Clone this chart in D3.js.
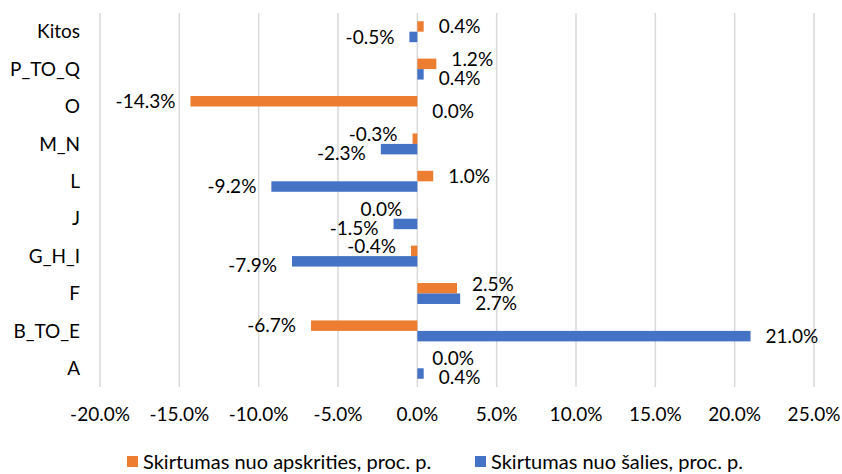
<!DOCTYPE html>
<html>
<head>
<meta charset="utf-8">
<script src="https://cdn.jsdelivr.net/npm/d3@7"></script>
<style>
  body { margin: 0; background: #fff; }
  text { font-family: Lato, "Open Sans", sans-serif; fill: #000; }
</style>
</head>
<body>
<svg></svg>
<script>
// categories from bottom to top
var categories = ["A", "B_TO_E", "F", "G_H_I", "J", "L", "M_N", "O", "P_TO_Q", "Kitos"];
var seriesNames = ["Skirtumas nuo apskrities, proc. p.", "Skirtumas nuo šalies, proc. p."];
var apskrities = [0.0, -6.7, 2.5, -0.4, -0.01, 1.0, -0.3, -14.3, 1.2, 0.4];
var salies = [0.4, 21.0, 2.7, -7.9, -1.5, -9.2, -2.3, 0.0, 0.4, -0.5];
var ticks = [-20, -15, -10, -5, 0, 5, 10, 15, 20, 25];
var colors = ["#ED7D31", "#4472C4"];

var svgWidth = 842, svgHeight = 474, fontSize = "19px";
var svg = d3.select("svg")
    .attr("width", svgWidth)
    .attr("height", svgHeight);

var x = d3.scaleLinear().domain([-20, 25]).range([100, 814]);
var y = d3.scaleBand().domain(categories).range([387, 13])
    .paddingInner(0.44).paddingOuter(0.22);
var ySub = d3.scaleBand().domain([0, 1]).range([0, y.bandwidth()]);

// gridlines
svg.append("g").selectAll("line")
    .data(ticks)
    .enter()
    .append("line")
    .attr("x1", function(d){ return x(d); })
    .attr("x2", function(d){ return x(d); })
    .attr("y1", 13)
    .attr("y2", 387)
    .attr("stroke", "#d9d9d9")
    .attr("stroke-width", 1.5);

// tick labels
svg.append("g").selectAll("text")
    .data(ticks)
    .enter()
    .append("text")
    .attr("x", function(d){ return x(d); })
    .attr("y", 421)
    .attr("text-anchor", "middle")
    .style("font-size", fontSize)
    .text(function(d){ return d.toFixed(1) + "%"; });

// category labels
svg.append("g").selectAll("text")
    .data(categories)
    .enter()
    .append("text")
    .attr("x", 80)
    .attr("y", function(d){ return y(d) + y.bandwidth() / 2; })
    .attr("dy", "0.35em")
    .attr("text-anchor", "end")
    .style("font-size", fontSize)
    .text(function(d){ return d; });

var rows = categories.map(function(c, i){
    return { cat: c, vals: [apskrities[i], salies[i]] };
});

var bars = [];
rows.forEach(function(r){
    r.vals.forEach(function(v, s){
        bars.push({ cat: r.cat, s: s, v: v,
            cy: y(r.cat) + ySub(s) + ySub.bandwidth() / 2 });
    });
});

svg.append("g").selectAll("rect")
    .data(bars)
    .enter()
    .append("rect")
    .attr("x", function(d){ return x(Math.min(0, d.v)); })
    .attr("width", function(d){ return Math.abs(x(d.v) - x(0)); })
    .attr("y", function(d){ return y(d.cat) + ySub(d.s); })
    .attr("height", ySub.bandwidth())
    .attr("fill", function(d){ return colors[d.s]; });

// label positions, nudge apart when both labels of a group sit on the same side
rows.forEach(function(r){
    var a = bars.filter(function(b){ return b.cat === r.cat; });
    a.forEach(function(b){ b.ly = b.cy; });
    var sameSide = (a[0].v < 0) === (a[1].v < 0);
    if (sameSide) {
        var gap = a[1].ly - a[0].ly, need = 19;
        if (gap < need) {
            a[0].ly -= (need - gap) / 2;
            a[1].ly += (need - gap) / 2;
        }
    }
});

function fmt(v){
    var s = v.toFixed(1);
    if (s === "-0.0") s = "0.0";
    return s + "%";
}

svg.append("g").selectAll("text")
    .data(bars)
    .enter()
    .append("text")
    .attr("x", function(d){ return d.v < 0 ? x(d.v) - 15 : x(d.v) + 15; })
    .attr("y", function(d){ return d.ly; })
    .attr("dy", "0.35em")
    .attr("text-anchor", function(d){ return d.v < 0 ? "end" : "start"; })
    .style("font-size", fontSize)
    .text(function(d){ return fmt(d.v); });

// legend
var legendX = [127, 475];
var legend = svg.append("g").selectAll("g")
    .data(seriesNames)
    .enter()
    .append("g")
    .attr("transform", function(d, i){ return "translate(" + legendX[i] + ",456)"; });
legend.append("rect")
    .attr("width", 11)
    .attr("height", 11)
    .attr("fill", function(d, i){ return colors[i]; });
legend.append("text")
    .attr("x", 16)
    .attr("y", 5.5)
    .attr("dy", "0.35em")
    .style("font-size", "20px")
    .text(function(d){ return d; });
</script>
</body>
</html>
